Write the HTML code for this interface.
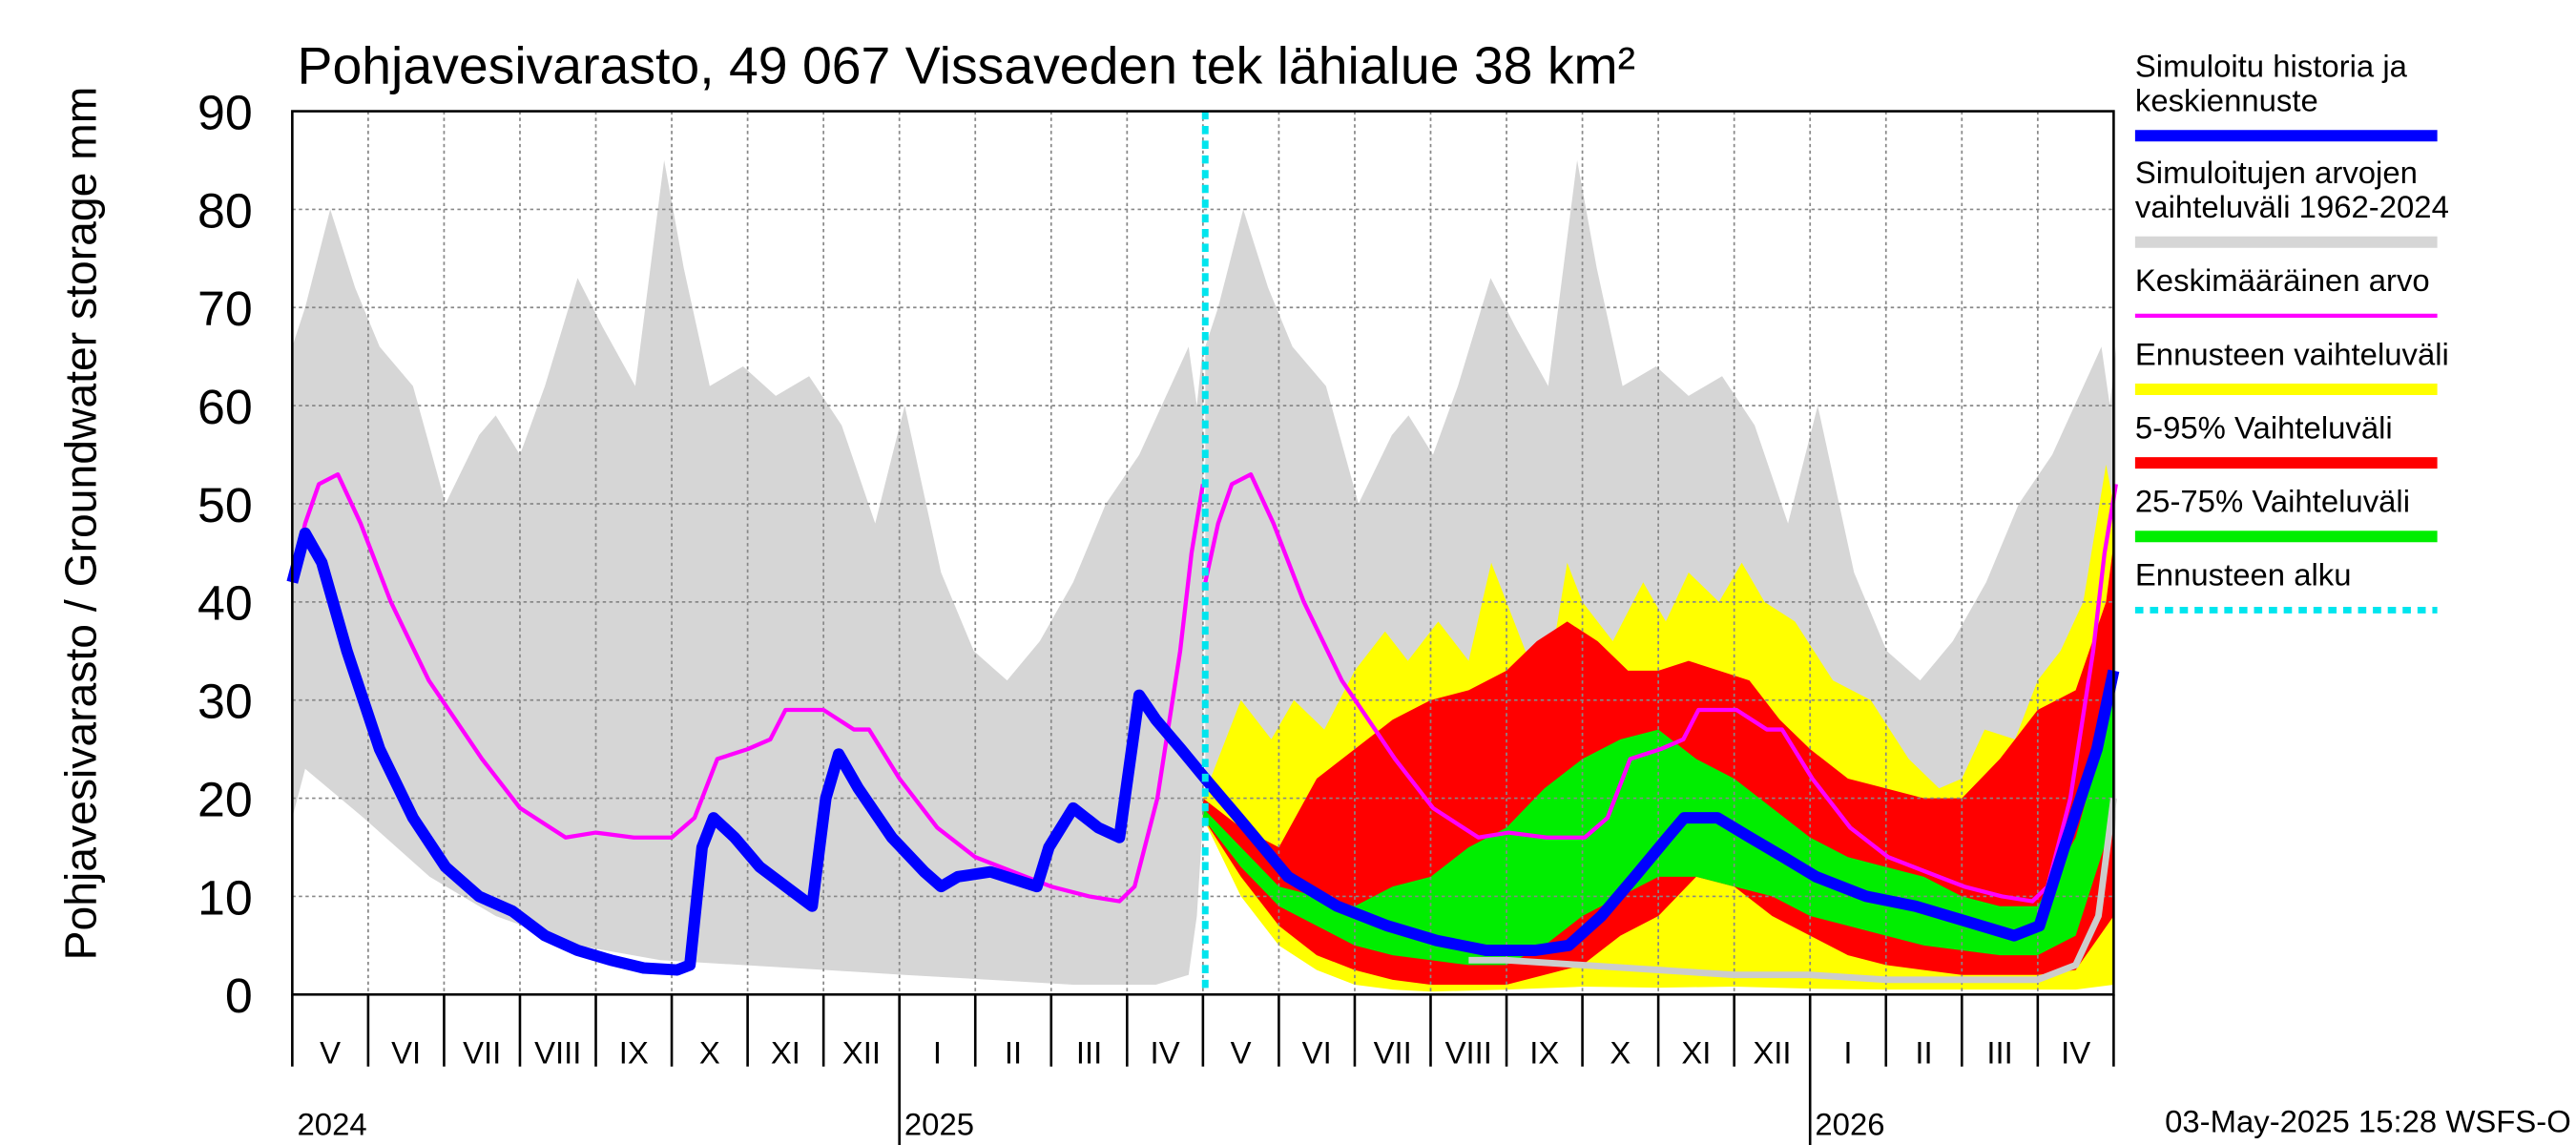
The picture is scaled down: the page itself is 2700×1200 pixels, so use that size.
<!DOCTYPE html>
<html><head><meta charset="utf-8"><style>
html,body{margin:0;padding:0;background:#fff;}
svg{display:block;font-family:"Liberation Sans",Arial,sans-serif;}
</style></head><body>
<svg id="chart" width="2700" height="1200" viewBox="0 0 1560 700" preserveAspectRatio="none" xmlns="http://www.w3.org/2000/svg">
<rect x="0" y="0" width="1560" height="700" fill="#fff"/>
<g id="plot"></g>
<text x="180" y="51" font-size="32">Pohjavesivarasto, 49 067 Vissaveden tek lähialue 38 km²</text>
<text transform="translate(58,320) rotate(-90)" text-anchor="middle" font-size="27">Pohjavesivarasto / Groundwater storage   mm</text>
<text x="1557" y="692" text-anchor="end" font-size="19">03-May-2025 15:28 WSFS-O</text>
<g id="legend"></g>
</svg>
<script>
// ---- data (x in months since 1 May 2024, values in mm) ----
const monthLabels=["V","VI","VII","VIII","IX","X","XI","XII","I","II","III","IV","V","VI","VII","VIII","IX","X","XI","XII","I","II","III","IV"];
const yTicks=[0,10,20,30,40,50,60,70,80,90];
const yearLabels=[{m:0,t:"2024"},{m:8,t:"2025"},{m:20,t:"2026"}];
const forecastStart=12.03;
const grayUpM=[0,0.17,0.5,0.83,1.15,1.59,2.02,2.46,2.68,3.0,3.33,3.76,4.09,4.52,4.9,5.16,5.5,5.94,6.37,6.81,7.24,7.68,8.07,8.55,8.98,9.42,9.85,10.29,10.72,11.16,11.81,11.92,12];
const grayUpV=[66,70,80,72,66,62,50,57,59,55,62,73,68,62,85,74,62,64,61,63,58,48,60,43,35,32,36,42,50,55,66,60,66];
const grayLoM=[0,0.17,0.94,1.81,2.68,3.76,4.85,5.94,7.03,8.07,9.2,10.29,11.38,11.81,11.92,12];
const grayLoV=[18,23,18,12,8,5,3.5,3,2.5,2,1.5,1,1,2,8,18];
const meanM=[0,0.17,0.35,0.6,0.9,1.3,1.8,2.5,3.0,3.4,3.6,4.0,4.5,5.0,5.3,5.6,6.0,6.3,6.5,7.0,7.4,7.6,8.0,8.5,9.0,9.5,10.0,10.5,10.9,11.1,11.4,11.7,11.85,12];
const meanV=[42,48,52,53,48,40,32,24,19,17,16,16.5,16,16,18,24,25,26,29,29,27,27,22,17,14,12.5,11,10,9.5,11,20,35,45,52];
const yelUpM=[12.0,12.5,12.9,13.2,13.6,14,14.4,14.7,15.1,15.5,15.8,16.1,16.5,16.8,17.0,17.4,17.8,18.1,18.4,18.8,19.1,19.4,19.8,20.3,20.8,21.3,21.7,22.0,22.3,22.7,23.0,23.3,23.6,23.9,24];
const yelUpV=[20,30,26,30,27,33,37,34,38,34,44,38,30,44,40,36,42,38,43,40,44,40,38,32,30,24,21,22,27,26,32,35,40,54,50];
const yelLoM=[12,12.5,13,13.5,14,14.5,15,16,17,18,19,20,21,22,23,23.5,24];
const yelLoV=[18,10,5,2.5,1,0.5,0.3,0.5,0.8,0.7,0.8,0.6,0.5,0.5,0.5,0.5,1];
const qM=[12,12.5,13,13.5,14,14.5,15,15.5,16,16.5,17,17.5,18,18.5,19,19.5,20,20.5,21,21.5,22,22.5,23,23.5,24];
const redUpM=[12,12.5,13,13.5,14,14.5,15,15.5,16,16.4,16.8,17.2,17.6,18,18.4,18.8,19.2,19.6,20,20.5,21,21.5,22,22.5,23,23.5,23.9,24];
const redUpV=[20,17,15,22,25,28,30,31,33,36,38,36,33,33,34,33,32,28,25,22,21,20,20,24,29,31,40,46];
const redLoV=[18,12,7,4,2.5,1.5,1,1,1,2,3,6,8,12,11,8,6,4,3,2.5,2,2,2,2.5,8];
const grnUpV=[19,15,11,10,9,11,12,15,17,21,24,26,27,24,22,19,16,14,13,12,10,9,9,16,30];
const grnLoV=[18,13,9,7,5,4,3.5,3,3,5,8,10,12,12,11,10,8,7,6,5,4.5,4,4,6,18];
const minM=[15.5,16,17,18,19,20,21,22,23,23.5,23.8,24];
const minV=[3.5,3.5,3,2.5,2,2,1.5,1.5,1.5,3,8,20];
const histM=[0,0.17,0.39,0.72,1.15,1.59,2.02,2.46,2.9,3.33,3.76,4.2,4.63,5.07,5.24,5.4,5.55,5.83,6.16,6.59,6.85,7.03,7.2,7.46,7.9,8.33,8.55,8.77,9.2,9.81,9.97,10.29,10.62,10.9,11.16,11.38,11.71,12.03];
const histV=[42,47,44,35,25,18,13,10,8.5,6,4.5,3.5,2.7,2.5,3,15,18,16,13,10.5,9,20,24.5,21,16,12.5,11,12,12.5,11,15,19,17,16,30.5,28,25,22];
const fcM=[12.03,12.47,13.12,13.77,14.43,15.08,15.73,16.38,16.82,17.25,17.69,18.12,18.34,18.78,19.21,19.65,20.08,20.74,21.39,22.04,22.69,23.02,23.35,23.78,24];
const fcV=[22,18,12,9,7,5.5,4.5,4.5,5,8,12,16,18,18,16,14,12,10,9,7.5,6,7,15,25,33];

const X0=177,X1=1280,Y0=608,Y1=68;
const xs=m=>X0+m*(X1-X0)/24;
const ys=v=>Y0-v*(Y0-Y1)/90;
const NS="http://www.w3.org/2000/svg";
const plot=document.getElementById('plot');
function mk(tag,attrs,parent){const e=document.createElementNS(NS,tag);for(const k in attrs)e.setAttribute(k,attrs[k]);(parent||plot).appendChild(e);return e;}
function pts(M,V,off){return M.map((m,i)=>xs(m+(off||0)).toFixed(1)+","+ys(V[i]).toFixed(1));}
function band(uM,uV,lM,lV,fill,name,off){
  const p=pts(uM,uV,off).concat(pts(lM,lV,off).reverse());
  const e=mk('polygon',{points:p.join(' '),fill:fill});
  
  
}
function line(M,V,stroke,w,name,off){
  const e=mk('polyline',{points:pts(M,V,off).join(' '),fill:'none',stroke:stroke,'stroke-width':w,'stroke-linejoin':'round'});
  
  
}
band(grayUpM,grayUpV,grayLoM,grayLoV,'#d6d6d6','sim-range-2024',0);
band(grayUpM,grayUpV,grayLoM,grayLoV,'#d6d6d6','sim-range-2025',12.03);
band(yelUpM,yelUpV,yelLoM,yelLoV,'#ffff00','forecast-range');
band(redUpM,redUpV,qM,redLoV,'#ff0000','range-5-95');
band(qM,grnUpV,qM,grnLoV,'#00ee00','range-25-75');
for(let v of yTicks){
  const g=mk('line',{x1:X0,x2:X1,y1:ys(v),y2:ys(v),stroke:'#888','stroke-width':1,'stroke-dasharray':'2,2'});
  
  
  const t=mk('text',{x:153,y:ys(v)+11,'text-anchor':'end','font-size':30});
  t.textContent=v;
  
  
}
for(let i=0;i<=24;i++){
  const x=xs(i);
  if(i>0&&i<24){const g=mk('line',{x1:x,x2:x,y1:Y1,y2:Y0,stroke:'#888','stroke-width':1,'stroke-dasharray':'2,2'});
  
  }
  const big=(i===8||i===20);
  const tk=mk('line',{x1:x,x2:x,y1:Y0,y2:big?700:652,stroke:'#000','stroke-width':1.5});
  
  
  if(i<24){const t=mk('text',{x:xs(i+0.5),y:650,'text-anchor':'middle','font-size':19});
  t.textContent=monthLabels[i];
  
  }
}
for(const yl of yearLabels){const t=mk('text',{x:xs(yl.m)+3,y:694,'font-size':19});
  t.textContent=yl.t;
  
  }
line(minM,minV,'#cccccc',4,'simulated-min-line');
line(meanM,meanV,'#ff00ff',2.5,'mean-line-2024',0);
line(meanM,meanV,'#ff00ff',2.5,'mean-line-2025',12.03);
line(histM,histV,'#0000ff',7,'simulated-history-line');
line(fcM,fcV,'#0000ff',7,'median-forecast-line');
const fs=mk('line',{x1:xs(forecastStart),x2:xs(forecastStart),y1:Y1,y2:Y0,stroke:'#00e5ee','stroke-width':4,'stroke-dasharray':'5,4'});


const fr=mk('rect',{x:X0,y:Y1,width:X1-X0,height:Y0-Y1,fill:'none',stroke:'#000','stroke-width':1.5});


const leg=document.getElementById('legend');
const items=[
 {l:["Simuloitu historia ja","keskiennuste"],c:'#0000ff',w:7,y:83,d:''},
 {l:["Simuloitujen arvojen","vaihteluväli 1962-2024"],c:'#d6d6d6',w:7,y:148,d:''},
 {l:["Keskimääräinen arvo"],c:'#ff00ff',w:2.5,y:193,d:''},
 {l:["Ennusteen vaihteluväli"],c:'#ffff00',w:7,y:238,d:''},
 {l:["5-95% Vaihteluväli"],c:'#ff0000',w:7,y:283,d:''},
 {l:["25-75% Vaihteluväli"],c:'#00ee00',w:7,y:328,d:''},
 {l:["Ennusteen alku"],c:'#00e5ee',w:4,y:373,d:'5,4'}];
for(const it of items){
  it.l.forEach((s,k)=>{const t=mk('text',{x:1293,y:it.y-15-(it.l.length-1-k)*21,'font-size':19},leg);
    t.textContent=s;
    
    });
  const a={x1:1293,x2:1476,y1:it.y,y2:it.y,stroke:it.c,'stroke-width':it.w};
  if(it.d)a['stroke-dasharray']=it.d;
  const ln=mk('line',a,leg);
  
  
}
</script>
</body></html>
